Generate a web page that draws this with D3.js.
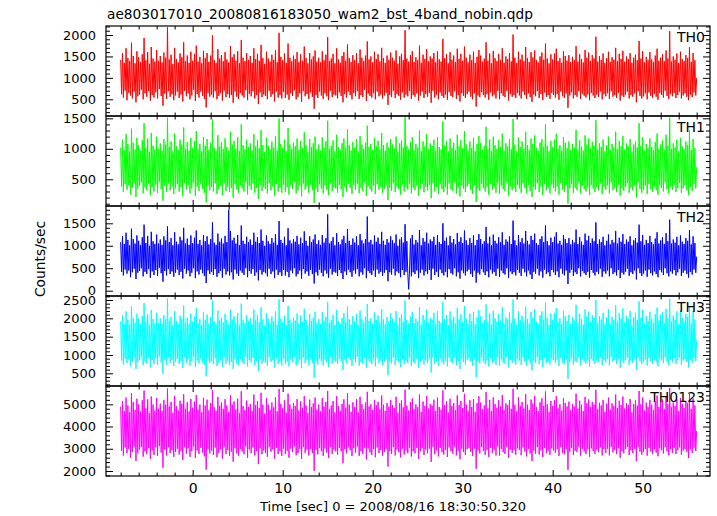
<!DOCTYPE html>
<html>
<head>
<meta charset="utf-8">
<script src="https://cdn.jsdelivr.net/npm/d3@7"></script>
<style>
  html, body { margin: 0; padding: 0; background: #fff; }
  svg { display: block; }
  text { font-family: "DejaVu Sans", sans-serif; fill: #000; }
</style>
</head>
<body>
<svg id="chart" width="717" height="516"></svg>
<script>
// ---------------- data ----------------
const titleText = "ae803017010_20080816183050_wam2_bst_4band_nobin.qdp";
const xLabelText = "Time [sec] 0 = 2008/08/16 18:30:50.320";
const yLabelText = "Counts/sec";
const timeStart = -8;
const timeStep = 0.1;
const panelNames = ["TH0", "TH1", "TH2", "TH3", "TH0123"];

const th0 = [
1420,620,1580,540,1350,700,1690,480,1460,650,1390,590,1820,520,1510,680,1340,430,1620,570,
1480,610,1370,720,1550,500,1930,640,1410,560,1600,690,1330,470,1720,600,1450,540,1380,660,
1650,520,1400,740,1510,580,1360,350,1590,630,1470,510,2180,690,1430,560,1540,620,1320,480,
1700,590,1440,680,1360,530,1570,610,1480,450,1830,700,1390,570,1520,640,1350,500,1610,590,
1400,720,1560,460,1750,620,1380,540,1490,680,1340,580,1630,510,1460,310,1580,650,1370,560,
1520,610,1990,540,1410,690,1350,500,1670,580,1450,640,1530,470,1390,700,1600,550,1430,620,
1360,530,1740,600,1480,420,1550,680,1400,560,1620,510,1340,650,1880,590,1470,540,1390,710,
1580,480,1420,630,1510,570,1350,690,1690,520,1440,600,1560,390,1400,660,1770,550,1460,610,
1330,580,1610,500,1450,700,1380,560,1540,620,1420,450,1650,680,1360,540,2050,600,1490,520,
1410,670,1570,530,1350,610,1800,490,1470,640,1390,580,1520,710,1440,500,1600,560,1370,640,
1550,440,1400,690,1730,570,1460,620,1340,510,1580,660,1430,560,1500,280,1640,600,1380,530,
1470,680,1360,590,1620,510,1410,640,1540,570,1950,480,1390,700,1450,550,1560,610,1340,590,
1690,520,1430,660,1350,580,1510,430,1600,620,1400,540,1780,680,1460,600,1370,500,1530,650,
1410,570,1580,690,1340,510,1660,600,1470,550,1390,720,1520,460,1850,630,1430,580,1500,540,
1360,640,1610,500,1440,680,1550,570,1380,610,1700,520,1460,590,1350,650,1520,370,1420,600,
1590,550,1470,700,1400,530,1640,620,1330,580,1500,490,1560,660,1410,540,2110,610,1450,570,
1380,690,1530,510,1620,600,1370,560,1480,640,1410,470,1750,590,1350,680,1540,530,1440,620,
1670,560,1390,650,1500,420,1450,700,1580,540,1360,610,1620,500,1430,660,1380,580,1910,530,
1460,610,1550,490,1340,670,1600,580,1420,550,1520,690,1370,510,1680,600,1440,450,1560,640,
1400,580,1730,530,1470,620,1360,680,1540,560,1410,500,1610,640,1350,330,1490,590,1650,550,
1520,670,1380,600,1450,540,1830,620,1400,490,1570,660,1340,570,1630,610,1460,520,1390,690,
1560,500,1420,640,1690,580,1350,550,1500,700,1440,470,1580,620,1380,560,2010,600,1470,530,
1350,650,1610,590,1430,520,1540,680,1390,600,1720,510,1460,640,1370,550,1600,440,1480,610,
1640,570,1410,690,1360,530,1500,620,1590,480,1420,660,1800,560,1450,600,1340,510,1550,650,
1430,600,1570,540,1680,620,1390,490,1460,680,1350,570,1620,530,1510,640,1400,300,1530,590,
1370,660,1490,520,1410,600,1740,560,1380,690,1550,510,1440,630,1360,580,1650,540,1470,610,
1590,480,1400,650,1530,590,1450,530,1960,610,1380,560,1510,680,1420,500,1570,620,1350,570,
1460,640,1610,510,1370,690,1480,560,1420,600,1700,530,1390,650,1560,470,1440,590,1630,550,
1380,610,1500,680,1440,520,1580,600,1350,560,1470,640,1540,430,1410,690,1860,580,1450,520,
1620,570,1360,640,1490,500,1410,660,1600,580,1430,530,1370,620,1520,560,1680,490,1400,650,
1470,600,1550,540,1390,700,1640,580,1450,510,2090,620,1380,570,1500,650,1420,530,1570,600,
1350,680,1610,520,1440,590,1390,640,1530,560,1460,480,1720,610,1370,550,1580,660,1410,590,
1000];

const th1 = [
1020,380,1150,290,980,420,1240,330,1080,400,960,250,1330,360,1100,440,990,210,1180,350,
1060,390,970,450,1140,270,1420,370,1010,320,1170,430,950,240,1260,380,1050,300,990,410,
1200,280,1000,460,1090,340,970,150,1160,390,1070,290,1510,430,1030,320,1120,380,960,260,
1250,350,1040,420,980,300,1150,370,1070,220,1350,440,1000,330,1110,400,970,270,1180,350,
1010,450,1130,230,1290,380,990,310,1080,420,960,340,1190,280,1050,120,1160,400,980,320,
1100,370,1480,300,1020,430,970,260,1220,340,1040,390,1110,240,1000,440,1170,310,1030,380,
970,290,1280,360,1070,200,1130,420,1000,330,1190,280,960,400,1400,350,1060,300,990,450,
1150,250,1030,390,1090,330,970,430,1240,280,1040,360,1140,180,1010,410,1310,310,1060,370,
950,340,1180,270,1050,440,990,320,1120,380,1020,230,1210,420,970,300,1500,360,1080,280,
1010,410,1150,290,960,370,1340,250,1070,400,1000,340,1100,450,1040,270,1170,320,980,400,
1130,220,1010,430,1270,330,1060,380,950,280,1160,410,1030,320,1090,110,1200,360,990,290,
1070,420,970,350,1190,270,1020,400,1120,330,1460,240,1000,440,1050,310,1140,370,960,350,
1230,280,1030,410,980,340,1090,210,1170,380,1010,300,1320,420,1060,360,970,260,1110,400,
1020,330,1160,430,960,270,1210,360,1070,310,1000,450,1100,230,1380,390,1030,340,1080,300,
980,400,1180,260,1040,420,1130,330,990,370,1260,280,1060,350,970,410,1100,160,1020,360,
1160,310,1070,440,1010,290,1200,380,950,340,1090,250,1140,410,1020,300,1520,370,1050,330,
990,430,1110,270,1190,360,980,320,1080,400,1020,230,1300,350,960,420,1120,290,1040,380,
1240,320,1000,410,1090,190,1050,440,1150,300,970,370,1190,260,1030,420,990,340,1450,290,
1060,370,1130,250,960,430,1170,340,1020,310,1100,450,980,270,1230,360,1040,220,1140,400,
1010,340,1290,290,1070,380,970,420,1120,320,1010,260,1180,400,960,130,1080,350,1210,310,
1100,430,990,360,1050,300,1360,380,1000,250,1150,420,960,330,1200,370,1060,280,1000,440,
1140,260,1030,400,1250,340,970,310,1090,450,1040,230,1160,380,990,320,1490,360,1070,290,
960,410,1190,350,1030,280,1120,440,1000,360,1280,270,1060,400,980,310,1170,210,1080,370,
1220,330,1010,440,970,290,1100,380,1160,240,1030,420,1400,320,1050,360,960,270,1130,410,
1030,360,1150,300,1250,380,1000,250,1060,440,970,330,1190,290,1100,400,1010,100,1120,350,
980,420,1080,280,1020,360,1310,320,990,450,1140,270,1040,390,970,340,1220,300,1070,370,
1170,240,1010,410,1110,350,1050,290,1470,370,990,320,1090,440,1030,260,1150,380,960,330,
1060,400,1200,270,980,450,1080,320,1020,360,1280,290,1000,410,1130,230,1040,350,1210,310,
990,370,1090,440,1040,280,1160,360,960,320,1070,400,1120,200,1020,450,1420,340,1050,280,
1190,330,970,400,1080,260,1010,420,1170,340,1030,290,980,380,1110,320,1250,250,1000,410,
1070,360,1140,300,990,450,1230,340,1050,270,1510,380,1000,330,1090,410,1020,290,1150,360,
960,440,1180,280,1040,350,990,400,1120,320,1060,240,1300,370,980,310,1160,420,1010,350,
700];

const th2 = [
1080,420,1210,340,1040,470,1290,380,1130,450,1010,300,1380,410,1150,490,1050,260,1230,400,
1110,440,1020,500,1190,320,1470,420,1060,370,1220,480,1000,290,1310,430,1100,350,1040,460,
1250,330,1050,510,1140,390,1020,200,1210,440,1120,340,1430,480,1080,370,1170,430,1010,310,
1300,400,1090,470,1030,350,1200,420,1120,270,1400,490,1050,380,1160,450,1020,320,1230,400,
1060,500,1180,280,1340,430,1040,360,1130,470,1010,390,1240,330,1100,170,1210,450,1030,370,
1150,420,1520,350,1070,480,1020,310,1270,390,1090,440,1160,290,1050,490,1220,360,1080,430,
1800,340,1330,410,1120,250,1180,470,1050,380,1240,330,1010,450,1450,400,1110,350,1040,500,
1200,300,1080,440,1140,380,1020,480,1290,330,1090,410,1190,230,1060,460,1360,360,1110,420,
1000,390,1230,320,1100,490,1040,370,1170,430,1070,280,1260,470,1020,350,1550,410,1130,330,
1060,460,1200,340,1010,420,1390,300,1120,450,1050,390,1150,500,1090,320,1220,370,1030,450,
1180,270,1060,480,1320,380,1110,430,1000,330,1210,460,1080,370,1140,160,1250,410,1040,340,
1120,470,1020,400,1240,320,1070,450,1170,380,1700,290,1050,490,1100,360,1190,420,1010,400,
1280,330,1080,460,1030,390,1140,260,1220,430,1060,350,1370,470,1110,410,1020,310,1160,450,
1070,380,1210,480,1010,320,1260,410,1120,360,1050,500,1150,280,1650,440,1080,390,1130,350,
1030,450,1230,310,1090,470,1180,380,1040,420,1310,330,1110,400,1020,460,1150,210,1070,410,
1210,360,1120,490,1060,340,1250,430,1000,390,1140,300,1190,460,1070,350,1480,420,1100,380,
30,480,1160,320,1240,410,1030,370,1130,450,1070,280,1350,400,1010,470,1170,340,1090,430,
1290,370,1050,460,1140,240,1100,490,1200,350,1020,420,1240,310,1080,470,1040,390,1500,340,
1110,420,1180,300,1010,480,1220,390,1070,360,1150,500,1030,320,1280,410,1090,270,1190,450,
1060,390,1340,340,1120,430,1020,470,1170,370,1060,310,1230,450,1010,180,1130,400,1260,360,
1150,480,1040,410,1100,350,1420,430,1050,300,1200,470,1010,380,1250,420,1110,330,1050,490,
1190,310,1080,450,1300,390,1020,360,1140,500,1090,280,1210,430,1040,370,1560,410,1120,340,
1010,460,1240,400,1080,330,1170,490,1050,410,1330,320,1110,450,1030,360,1220,260,1130,420,
1270,380,1060,490,1020,340,1150,430,1210,290,1080,470,1450,370,1100,410,1010,320,1180,460,
1080,410,1200,350,1300,430,1050,300,1110,490,1020,380,1240,340,1150,450,1060,150,1170,400,
1030,470,1130,330,1070,410,1360,370,1040,500,1190,320,1090,440,1020,390,1270,350,1120,420,
1220,290,1060,460,1160,400,1100,340,1520,420,1040,370,1140,490,1080,310,1200,430,1010,380,
1110,450,1250,320,1030,500,1130,370,1070,410,1330,340,1050,460,1180,280,1090,400,1260,360,
1040,420,1140,490,1090,330,1210,410,1010,370,1120,450,1170,250,1070,500,1470,390,1100,330,
1240,380,1020,450,1130,310,1060,470,1220,390,1080,340,1030,430,1160,370,1300,300,1050,460,
1120,410,1190,350,1040,500,1280,390,1100,320,1580,430,1050,380,1140,460,1070,340,1200,410,
1010,490,1230,330,1090,400,1040,450,1170,370,1110,290,1350,420,1030,360,1210,470,1060,400,
760];

const th3 = [
1920,850,2080,740,1850,900,2190,780,1960,880,1830,690,2330,820,2010,940,1870,620,2120,800,
1990,860,1840,950,2060,720,2420,830,1900,770,2110,920,1810,660,2230,870,1980,750,1860,910,
2150,730,1880,960,2000,800,1850,480,2090,870,1970,740,2540,930,1940,790,2040,860,1820,700,
2200,810,1930,890,1850,760,2070,840,1990,650,2350,940,1880,790,2020,900,1840,710,2130,820,
1910,950,2050,680,2270,850,1870,770,1980,900,1820,800,2160,730,1950,420,2100,880,1860,780,
2030,830,2480,750,1920,910,1840,700,2210,790,1940,860,2020,670,1890,940,2120,760,1960,840,
1830,720,2250,810,1970,620,2060,900,1880,780,2150,730,1810,880,2400,800,1950,750,1870,950,
2090,690,1930,860,2000,790,1840,920,2240,730,1960,830,2080,560,1900,890,2300,760,1970,830,
1800,790,2140,700,1990,940,1860,810,2050,860,1920,660,2190,910,1830,750,2520,820,1990,720,
1900,890,2070,760,1820,830,2340,690,1970,880,1880,800,2020,950,1940,710,2130,780,1850,870,
2080,640,1910,930,2260,780,1960,860,1810,730,2120,890,1930,790,2010,380,2180,840,1870,740,
1980,900,1840,820,2170,720,1930,880,2040,800,2450,680,1880,940,1950,760,2090,850,1820,810,
2230,750,1930,900,1850,830,2010,590,2140,870,1900,770,2320,920,1970,860,1830,700,2060,890,
1920,790,2120,950,1820,710,2210,810,1990,760,1880,910,2040,650,2390,880,1930,800,2000,750,
1870,900,2160,690,1960,920,2080,780,1880,850,2250,720,1970,810,1840,900,2030,450,1920,820,
2140,770,1990,930,1900,730,2200,860,1810,800,2020,680,2110,890,1910,750,2490,830,1960,780,
1860,920,2050,700,2170,810,1870,770,1990,900,1920,650,2310,800,1830,880,2090,740,1950,850,
2240,780,1890,890,2010,520,1960,940,2150,760,1840,830,2200,700,1930,910,1870,800,2440,750,
1980,840,2090,690,1820,920,2190,810,1950,770,2040,940,1860,720,2280,830,1970,620,2110,890,
1900,800,2330,740,1990,870,1840,910,2130,810,1920,710,2170,880,1830,400,2030,820,2230,770,
2060,920,1880,830,1960,750,2380,850,1900,690,2140,910,1830,790,2210,840,2000,730,1910,940,
2120,710,1940,880,2300,800,1850,760,2030,950,1970,660,2160,870,1880,790,2510,830,1990,740,
1830,900,2200,850,1950,730,2070,930,1900,820,2320,700,1980,890,1860,770,2170,580,2020,840,
2250,790,1910,940,1850,750,2080,860,2190,670,1960,910,2430,780,2010,830,1820,740,2130,900,
1950,860,2150,780,2280,870,1900,700,2000,930,1840,790,2210,750,2060,880,1930,350,2100,820,
1860,910,2040,740,1940,830,2370,800,1880,950,2120,720,1980,880,1830,820,2240,770,2050,860,
2180,680,1920,900,2090,840,2010,760,2500,850,1870,800,2060,930,1970,720,2150,870,1840,790,
2030,890,2250,720,1860,940,2040,810,1950,860,2350,760,1900,900,2140,650,1990,840,2270,780,
1890,870,2070,930,1990,730,2200,850,1820,790,2030,900,2150,600,1960,940,2460,820,2010,750,
2230,810,1850,880,2060,710,1930,920,2180,830,1990,760,1870,870,2110,800,2290,690,1940,900,
2100,850,2170,780,1880,950,2260,820,2000,720,2530,880,1910,800,2070,910,1960,760,2190,860,
1840,930,2210,740,2020,850,1900,890,2120,810,2040,660,2340,870,1860,790,2200,920,1970,830,
1400];

const th0123 = [
4900,2900,5150,2700,4700,3050,5300,2800,4950,3000,4650,2600,5500,2850,5100,3100,4750,2450,5250,2800,
5000,2950,4680,3080,5180,2650,5620,2880,4820,2760,5220,3030,4600,2550,5350,2920,4990,2720,4720,3060,
5280,2680,4800,3120,5030,2830,4700,2150,5200,2960,4980,2700,5710,3080,4900,2800,5100,2940,4620,2640,
5380,2860,4910,3000,4720,2740,5160,2900,5020,2500,5450,3090,4800,2780,5090,3020,4680,2640,5240,2880,
4850,3100,5120,2590,5420,2920,4760,2770,4990,3040,4640,2830,5290,2660,4940,2060,5210,2980,4730,2790,
5060,2920,5640,2720,4870,3050,4710,2620,5330,2810,4930,2970,5080,2560,4800,3100,5230,2760,4950,2940,
4660,2680,5410,2870,4990,2420,5130,3020,4770,2790,5250,2690,4610,2990,5580,2880,4920,2750,4730,3110,
5170,2590,4890,2970,5010,2810,4700,3060,5440,2700,4960,2900,5140,2310,4840,3010,5520,2760,4980,2920,
4580,2820,5270,2640,4990,3090,4740,2870,5080,2970,4860,2560,5310,3040,4680,2760,5690,2900,5020,2680,
4820,3000,5180,2760,4620,2910,5480,2600,4990,3010,4790,2850,5060,3110,4920,2710,5230,2800,4720,2990,
5140,2540,4850,3070,5370,2820,4950,2960,4610,2700,5210,3000,4880,2810,5040,2000,5300,2940,4760,2750,
4990,3030,4690,2890,5280,2680,4900,3010,5100,2830,5600,2590,4780,3090,4950,2770,5150,2950,4630,2880,
5360,2740,4920,3040,4710,2880,5020,2350,5220,2980,4850,2790,5500,3070,4980,2930,4660,2670,5090,3020,
4880,2820,5230,3100,4640,2680,5340,2900,5010,2760,4780,3050,5080,2520,5560,3010,4910,2830,5000,2720,
4750,2990,5200,2620,4960,3060,5110,2810,4780,2940,5390,2690,4980,2860,4700,3000,5060,2200,4890,2900,
5190,2770,4970,3080,4830,2700,5340,2960,4620,2850,5050,2610,5170,3000,4860,2740,5660,2920,4940,2800,
4720,3050,5100,2650,5260,2880,4770,2790,4990,3030,4870,2550,5440,2900,4650,3020,5120,2720,4920,2960,
5370,2800,4810,3010,5020,2410,4950,3090,5210,2760,4700,2930,5300,2660,4880,3040,4760,2850,5620,2740,
4970,2940,5130,2630,4630,3060,5250,2890,4920,2780,5060,3100,4740,2700,5400,2910,4960,2530,5150,3000,
4830,2850,5470,2720,4990,2980,4710,3040,5190,2860,4880,2680,5240,3010,4660,2100,5050,2920,5360,2790,
5080,3070,4790,2900,4950,2730,5550,2950,4820,2640,5200,3040,4690,2810,5310,2960,5010,2700,4850,3100,
5190,2690,4900,2990,5420,2850,4740,2770,5040,3090,4960,2600,5180,2970,4800,2820,5700,2940,4980,2730,
4690,3020,5310,2950,4930,2710,5100,3060,4810,2880,5450,2660,4980,3000,4750,2790,5210,2450,5040,2910,
5380,2780,4880,3080,4700,2740,5090,2930,5270,2630,4940,3030,5580,2800,5000,2920,4650,2730,5150,3010,
4930,2920,5180,2810,5360,2980,4820,2680,5000,3080,4720,2820,5270,2750,5060,2990,4900,2050,5120,2870,
4740,3050,5020,2720,4900,2910,5480,2850,4800,3100,5160,2690,4980,3000,4690,2880,5330,2760,5050,2970,
5220,2640,4890,3020,5110,2900,4990,2770,5650,2960,4780,2850,5070,3070,4950,2700,5190,2990,4670,2810,
5030,3000,5300,2700,4760,3090,5040,2840,4920,2950,5440,2760,4840,3020,5160,2590,4970,2900,5350,2800,
4810,2980,5060,3080,4970,2720,5240,2930,4640,2810,5010,3000,5180,2440,4940,3090,5600,2870,5000,2740,
5300,2850,4720,2990,5070,2690,4870,3040,5200,2880,4980,2760,4750,2970,5120,2830,5390,2660,4880,3010,
5110,2930,5220,2790,4790,3080,5340,2890,5000,2710,5740,2990,4860,2820,5080,3030,4930,2760,5210,2940,
4700,3060,5280,2740,5020,2920,4830,2990,5150,2860,5050,2580,5460,2970,4790,2810,5260,3040,4950,2900,
3800];

const seriesList = [th0, th1, th2, th3, th0123];

// axis ranges and tick values
const xDomain = [-9.63, 57.48];
const xMajorTicks = [0, 10, 20, 30, 40, 50];
const xMinorStep = 2;
const yDomains = [[110, 2210], [62, 1538], [-118, 1885], [154, 2609], [1775, 5823]];
const yMajorTicks = [
  [500, 1000, 1500, 2000],
  [500, 1000, 1500],
  [0, 500, 1000, 1500],
  [500, 1000, 1500, 2000, 2500],
  [2000, 3000, 4000, 5000]
];
const yMinorSteps = [100, 100, 100, 100, 200];

// ---------------- styles / layout ----------------
const colors = ["#ff0000", "#00ff00", "#0000ff", "#00ffff", "#ff00ff"];
const plotLeft = 106, plotRight = 710, plotTop = 26, panelH = 90;
const majorLen = 7, minorLen = 4, xMajorLen = 6, xMinorLen = 3.5;

const svg = d3.select("#chart");
const x = d3.scaleLinear().domain(xDomain).range([plotLeft, plotRight]);
const xMinorTicks = d3.range(-8, 57, xMinorStep).filter(v => !xMajorTicks.includes(v));

seriesList.forEach((series, p) => {
  const top = plotTop + p * panelH;
  const bottom = top + panelH;
  const y = d3.scaleLinear().domain(yDomains[p]).range([bottom, top]);
  const g = svg.append("g");

  // data line
  const line = d3.line()
    .x((d, i) => x(timeStart + i * timeStep))
    .y(d => y(d));
  g.append("path")
    .datum(series)
    .attr("fill", "none")
    .attr("stroke", colors[p])
    .attr("stroke-width", 1)
    .attr("stroke-linejoin", "bevel")
    .attr("d", line);

  // minor y ticks
  const [d0, d1] = yDomains[p];
  const step = yMinorSteps[p];
  const yMinor = d3.range(Math.ceil(d0 / step) * step, d1, step).filter(v => !yMajorTicks[p].includes(v));

  const axL = g.append("g").attr("transform", `translate(${plotLeft},0)`)
    .call(d3.axisLeft(y).tickValues(yMajorTicks[p]).tickSize(-majorLen).tickPadding(10).tickFormat(d3.format("d")));
  axL.selectAll("text").style("font-size", "13px").style("font-family", "DejaVu Sans, sans-serif");
  g.append("g").attr("transform", `translate(${plotLeft},0)`)
    .call(d3.axisLeft(y).tickValues(yMinor).tickSize(-minorLen).tickFormat(""));
  g.append("g").attr("transform", `translate(${plotRight},0)`)
    .call(d3.axisRight(y).tickValues(yMajorTicks[p]).tickSize(-majorLen).tickFormat(""));
  g.append("g").attr("transform", `translate(${plotRight},0)`)
    .call(d3.axisRight(y).tickValues(yMinor).tickSize(-minorLen).tickFormat(""));

  // x ticks top and bottom of panel (inward)
  g.append("g").attr("transform", `translate(0,${top})`)
    .call(d3.axisTop(x).tickValues(xMajorTicks).tickSize(-xMajorLen).tickFormat(""));
  g.append("g").attr("transform", `translate(0,${top})`)
    .call(d3.axisTop(x).tickValues(xMinorTicks).tickSize(-xMinorLen).tickFormat(""));
  const axB = g.append("g").attr("transform", `translate(0,${bottom})`)
    .call(d3.axisBottom(x).tickValues(xMajorTicks).tickSize(-xMajorLen).tickPadding(7)
      .tickFormat(p === seriesList.length - 1 ? d3.format("d") : ""));
  axB.selectAll("text").style("font-size", "14px").style("font-family", "DejaVu Sans, sans-serif");
  g.append("g").attr("transform", `translate(0,${bottom})`)
    .call(d3.axisBottom(x).tickValues(xMinorTicks).tickSize(-xMinorLen).tickFormat(""));

  g.selectAll(".domain").remove();
  g.selectAll(".tick line").attr("stroke", "#000");

  // frame
  g.append("rect")
    .attr("x", plotLeft).attr("y", top)
    .attr("width", plotRight - plotLeft).attr("height", panelH)
    .attr("fill", "none").attr("stroke", "#000").attr("stroke-width", 1.2);

  // panel label
  g.append("text")
    .attr("x", 705).attr("y", top + 16)
    .attr("text-anchor", "end")
    .style("font-size", "14px")
    .text(panelNames[p]);
});

// title
svg.append("text")
  .attr("x", 107).attr("y", 19)
  .style("font-size", "13.7px")
  .text(titleText);

// x label
svg.append("text")
  .attr("x", 393).attr("y", 511)
  .attr("text-anchor", "middle")
  .style("font-size", "13px")
  .text(xLabelText);

// y label
svg.append("text")
  .attr("transform", "translate(45,259) rotate(-90)")
  .attr("text-anchor", "middle")
  .style("font-size", "13.8px")
  .text(yLabelText);
</script>
</body>
</html>
